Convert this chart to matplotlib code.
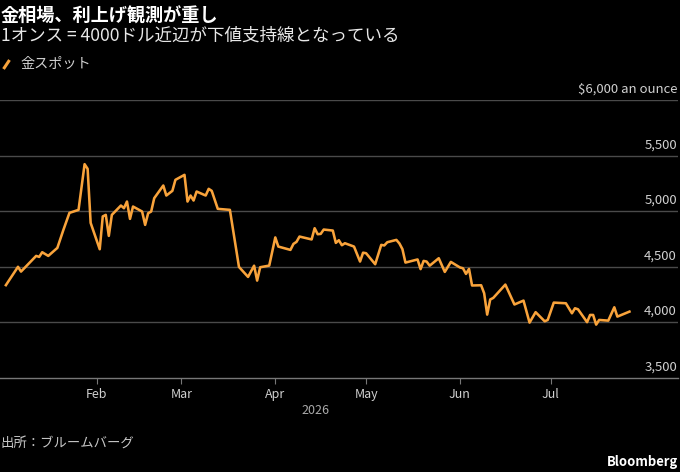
import matplotlib
matplotlib.use("Agg")
import matplotlib.pyplot as plt
import matplotlib.dates as mdates
import numpy as np
import datetime as dt

plt.rcParams['font.family'] = ['Noto Sans CJK JP', 'DejaVu Sans']

# ---- data ----
dates = [
    "2026-01-02", "2026-01-06", "2026-01-07", "2026-01-12", "2026-01-13", "2026-01-14",
    "2026-01-16", "2026-01-19", "2026-01-21", "2026-01-23", "2026-01-26", "2026-01-28",
    "2026-01-29", "2026-01-30", "2026-02-02", "2026-02-03", "2026-02-04", "2026-02-05",
    "2026-02-06", "2026-02-09", "2026-02-10", "2026-02-11", "2026-02-12", "2026-02-13",
    "2026-02-16", "2026-02-17", "2026-02-18", "2026-02-19", "2026-02-20", "2026-02-23",
    "2026-02-24", "2026-02-26", "2026-02-27", "2026-03-02", "2026-03-03", "2026-03-04",
    "2026-03-05", "2026-03-06", "2026-03-09", "2026-03-10", "2026-03-11", "2026-03-13",
    "2026-03-17", "2026-03-20", "2026-03-23", "2026-03-25", "2026-03-26", "2026-03-27",
    "2026-03-30", "2026-04-01", "2026-04-02", "2026-04-06", "2026-04-07", "2026-04-08",
    "2026-04-09", "2026-04-13", "2026-04-14", "2026-04-15", "2026-04-16", "2026-04-17",
    "2026-04-20", "2026-04-21", "2026-04-22", "2026-04-23", "2026-04-24", "2026-04-27",
    "2026-04-29", "2026-04-30", "2026-05-01", "2026-05-04", "2026-05-06", "2026-05-07",
    "2026-05-08", "2026-05-11", "2026-05-12", "2026-05-13", "2026-05-14", "2026-05-18",
    "2026-05-19", "2026-05-20", "2026-05-21", "2026-05-22", "2026-05-25", "2026-05-27",
    "2026-05-29", "2026-06-01", "2026-06-02", "2026-06-03", "2026-06-04", "2026-06-05",
    "2026-06-08", "2026-06-09", "2026-06-10", "2026-06-11", "2026-06-12", "2026-06-16",
    "2026-06-19", "2026-06-22", "2026-06-24", "2026-06-26", "2026-06-29", "2026-06-30",
    "2026-07-02", "2026-07-06", "2026-07-08", "2026-07-09", "2026-07-10", "2026-07-13",
    "2026-07-14", "2026-07-15", "2026-07-16", "2026-07-17", "2026-07-20", "2026-07-22",
    "2026-07-23", "2026-07-27",
]
gold_spot = [
    4335, 4500, 4457, 4598, 4589, 4631,
    4598, 4670, 4832, 4985, 5012, 5423,
    5381, 4895, 4658, 4953, 4967, 4778,
    4967, 5051, 5027, 5087, 4931, 5042,
    4997, 4877, 4982, 4997, 5117, 5231,
    5141, 5183, 5282, 5327, 5087, 5141,
    5096, 5177, 5141, 5201, 5183, 5021,
    5012, 4499, 4409, 4510, 4376, 4496,
    4511, 4764, 4682, 4652, 4706, 4724,
    4772, 4746, 4847, 4793, 4796, 4835,
    4826, 4715, 4739, 4694, 4712, 4682,
    4547, 4627, 4622, 4523, 4697, 4692,
    4721, 4742, 4710, 4659, 4538, 4566,
    4479, 4553, 4547, 4510, 4577, 4454,
    4544, 4494, 4487, 4436, 4481, 4332,
    4334, 4262, 4070, 4206, 4220, 4340,
    4161, 4196, 3998, 4092, 4010, 4022,
    4178, 4172, 4082, 4127, 4118, 4002,
    4067, 4067, 3980, 4022, 4016, 4136,
    4052, 4097,
]
y_ticks = [3500, 4000, 4500, 5000, 5500, 6000]
y_labels = ["3,500", "4,000", "4,500", "5,000", "5,500", "$6,000 an ounce"]
month_ticks = ["2026-02-01", "2026-03-01", "2026-04-01", "2026-05-01", "2026-06-01", "2026-07-01"]
month_labels = ["Feb", "Mar", "Apr", "May", "Jun", "Jul"]
title = "金相場、利上げ観測が重し"
subtitle = "1オンス = 4000ドル近辺が下値支持線となっている"
legend_label = "金スポット"
source = "出所：ブルームバーグ"
year_label = "2026"

# ---- styling ----
BG = "#000000"
LINE = "#f9a33b"
GRID = "#4a4a4a"
TXT = "#d0d0d0"

W, H = 680, 472
fig = plt.figure(figsize=(W / 100, H / 100), dpi=100, facecolor=BG)

ax_left, ax_right = 0 / W, 678 / W
ax_bottom, ax_top = 1 - 378 / H, 1 - 100 / H
ax = fig.add_axes([ax_left, ax_bottom, ax_right - ax_left, ax_top - ax_bottom])
ax.set_facecolor(BG)

x = [dt.datetime.strptime(d, "%Y-%m-%d") for d in dates]
ax.plot(x, gold_spot, color=LINE, lw=1.85, solid_joinstyle="round", zorder=3)

feb1 = mdates.date2num(dt.datetime(2026, 2, 1))
ax.set_xlim(feb1 - 96.7 / 3.027, feb1 + (678 - 96.7) / 3.027)
ax.set_ylim(3500, 6000)

for v in y_ticks[1:]:
    ax.axhline(v, color=GRID, lw=1.0, zorder=1)
for v, lab in zip(y_ticks, y_labels):
    ax.text(0.9985, v + 40, lab, transform=ax.get_yaxis_transform(),
            ha="right", va="bottom", color=TXT, fontsize=9.5)

ax.set_yticks([])
mt = [mdates.date2num(dt.datetime.strptime(m, "%Y-%m-%d")) for m in month_ticks]
ax.set_xticks(mt)
ax.set_xticklabels(month_labels, color=TXT, fontsize=9.0)
ax.tick_params(axis="x", direction="out", length=4, width=0.8, color="#777777", pad=3)

for s in ["top", "left", "right"]:
    ax.spines[s].set_visible(False)
ax.spines["bottom"].set_color("#777777")
ax.spines["bottom"].set_linewidth(1.0)

# texts
fig.text(1 / W, 1 - 16 / H, title, color="white", fontsize=13.1, fontweight="bold",
         ha="left", va="center")
fig.text(1 / W, 1 - 36 / H, subtitle, color="#e8e8e8", fontsize=12.6,
         ha="left", va="center")

# legend glyph
fig.add_artist(plt.Line2D([3.5 / W, 9.5 / W], [1 - 69 / H, 1 - 60 / H], color=LINE, lw=2.2,
                          transform=fig.transFigure, solid_capstyle="butt"))
fig.text(20 / W, 1 - 64 / H, legend_label, color=TXT, fontsize=10.2, ha="left", va="center")

fig.text(315 / W, 1 - 411 / H, year_label, color="#aaaaaa", fontsize=9.0, ha="center", va="center")
fig.text(0 / W, 1 - 443 / H, source, color="#c8c8c8", fontsize=9.6, ha="left", va="center")
fig.text(678 / W, 1 - 462 / H, "Bloomberg", color="white", fontsize=9.4, fontweight="bold",
         ha="right", va="center")

fig.savefig("out.png", dpi=100, facecolor=BG)
